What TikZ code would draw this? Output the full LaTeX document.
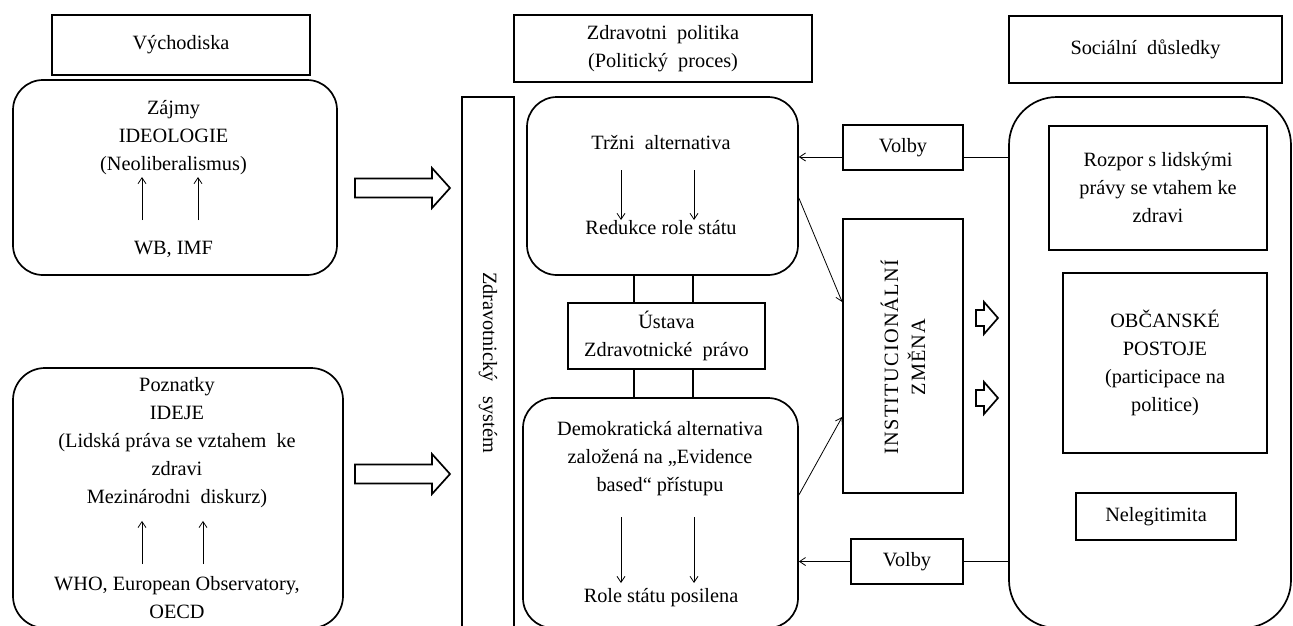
\documentclass[tikz,border=0pt]{standalone}
\usepackage{fontspec}
\setmainfont{Liberation Serif}
\usetikzlibrary{arrows.meta,calc}

\tikzset{
  box/.style={draw, line width=1.7pt, rectangle, inner sep=0pt, align=center,
              font=\fontsize{20.3}{28}\selectfont},
  rbox/.style={box, rounded corners=30pt},
  txt/.style={align=center, inner sep=0pt, font=\fontsize{20.3}{28}\selectfont},
  arr/.style={line width=0.8pt, -{Straight Barb[length=6pt,width=8pt]}},
  link/.style={line width=0.8pt},
  tie/.style={line width=1.7pt},
  bigarrow/.pic={
    \draw[line width=1.7pt, line join=miter]
      (0,-9.5) -- (77,-9.5) -- (77,-20) -- (95,0) -- (77,20) -- (77,9.5) -- (0,9.5) -- cycle;
  },
  smallarrow/.pic={
    \draw[line width=1.7pt, line join=miter]
      (0,-8) -- (8,-8) -- (8,-16) -- (22,0) -- (8,16) -- (8,8) -- (0,8) -- cycle;
  },
}

\begin{document}
\begin{tikzpicture}[x=1pt, y=-1pt]
\useasboundingbox (0,0) rectangle (1293,625);
\clip (0,0) rectangle (1293,625);

% column headings
\node[box, minimum width=258, minimum height=60] (hdrA) at (181,45) {Východiska};
\node[box, minimum width=298, minimum height=67] (hdrB) at (663,48.5) {Zdravotni\ \ politika\\(Politický\ \ proces)};
\node[box, minimum width=273, minimum height=67] (hdrC) at (1145.5,49.5) {Sociální\ \ důsledky};

% left column: starting points
\node[rbox, minimum width=324, minimum height=195] (zajmy) at (175,177.5) {};
\node[txt] (zajmyTxt) at (173.5,138) {Zájmy\\IDEOLOGIE\\(Neoliberalismus)};
\node[txt, anchor=base] (wbimf) at (173.5,254.4) {WB, IMF};
\draw[arr] ($(wbimf.base)+(-31.5,-34.4)$) -- ($(wbimf.base)+(-31.5,-77.4)$);
\draw[arr] ($(wbimf.base)+(24.5,-34.4)$) -- ($(wbimf.base)+(24.5,-77.4)$);

\node[rbox, rounded corners=32pt, minimum width=330, minimum height=260] (pozn) at (178,498) {};
\node[txt] (poznTxt) at (177,443) {Poznatky\\IDEJE\\(Lidská práva se vztahem\ \ ke\\zdravi\\Mezinárodni\ \ diskurz)};
\node[txt] (who) at (177,597.5) {WHO, European Observatory,\\OECD};
\draw[arr, shorten <=12pt, shorten >=12.5pt] ([xshift=-35pt]who.north) -- ([xshift=-35pt]who.north |- poznTxt.south);
\draw[arr, shorten <=12pt, shorten >=12.5pt] ([xshift=26pt]who.north) -- ([xshift=26pt]who.north |- poznTxt.south);

\pic at (355,188) {bigarrow};
\pic at (355,474) {bigarrow};

% health system column
\node[box, rotate=-90, minimum width=531, minimum height=52] (zsys) at (488,362.5) {Zdravotnický\ \ \ systém};

% policy column
\node[rbox, minimum width=271, minimum height=178] (trzni) at (662.5,186) {};
\node[txt, anchor=base] (trzniTxt) at (661,149.4) {Tržni\ \ alternativa};
\node[txt, anchor=base] (redukce) at (661,234.4) {Redukce role státu};
\draw[arr] ($(trzniTxt.base)+(-40,20.6)$) -- ($(redukce.base)+(-40,-14.4)$);
\draw[arr] ($(trzniTxt.base)+(33,20.6)$) -- ($(redukce.base)+(33,-14.4)$);

\node[box, minimum width=197, minimum height=66] (ustava) at (666.5,336) {Ústava\\Zdravotnické\ \ právo};

\node[rbox, minimum width=275, minimum height=230] (demo) at (660.5,513) {};
\node[txt] (demoTxt) at (660,459) {Demokratická alternativa\\založená na „Evidence\\based“ přístupu};
\node[txt, anchor=base] (rolest) at (661,602.4) {Role státu posilena};
\draw[arr] ($(rolest.base)+(-40,-85.4)$) -- ($(rolest.base)+(-40,-19.4)$);
\draw[arr] ($(rolest.base)+(33,-85.4)$) -- ($(rolest.base)+(33,-19.4)$);

\draw[tie] ([xshift=-32.5pt]ustava.north) -- ([xshift=-32.5pt]ustava.north |- trzni.south);
\draw[tie] ([xshift=26.5pt]ustava.north) -- ([xshift=26.5pt]ustava.north |- trzni.south);
\draw[tie] ([xshift=-32.5pt]ustava.south) -- ([xshift=-32.5pt]ustava.south |- demo.north);
\draw[tie] ([xshift=26.5pt]ustava.south) -- ([xshift=26.5pt]ustava.south |- demo.north);

% institutional change and elections
\node[box, minimum width=120, minimum height=274] (inst) at (903,356) {};
\node[txt, rotate=90, font=\fontsize{20.3}{27}\addfontfeature{LetterSpace=6}\selectfont] (instTxt) at (903,357) {INSTITUCIONÁLNÍ\\ZMĚNA};
\node[box, minimum width=120, minimum height=45] (volby1) at (903,147.5) {Volby};
\node[box, minimum width=112, minimum height=45] (volby2) at (907,561.5) {Volby};

\draw[arr] ([yshift=-12pt]trzni.east) -- ([yshift=54pt]inst.west);
\draw[arr] ([yshift=18pt]demo.east) -- ([yshift=-61pt]inst.west);

\pic at (976,318) {smallarrow};
\pic at (976,398) {smallarrow};

% social consequences column
\node[box, rounded corners=48pt, minimum width=282, minimum height=531] (bigR) at (1150,362.5) {};
\node[box, minimum width=218, minimum height=124] (rozpor) at (1158,188) {Rozpor s lidskými\\právy se vtahem ke\\zdravi};
\node[box, minimum width=204, minimum height=180] (obc) at (1165,363) {OBČANSKÉ\\POSTOJE\\(participace na\\politice)};
\node[box, minimum width=160, minimum height=47] (neleg) at (1156,516.5) {Nelegitimita};

\draw[link] ([yshift=-9.5pt]volby1.east) -- ([yshift=-9.5pt]volby1.east -| bigR.west);
\draw[arr] ([yshift=-9.5pt]volby1.west) -- ([yshift=-9.5pt]volby1.west -| trzni.east);
\draw[link] (volby2.east) -- (volby2.east -| bigR.west);
\draw[arr] (volby2.west) -- (volby2.west -| demo.east);
\end{tikzpicture}
\end{document}
